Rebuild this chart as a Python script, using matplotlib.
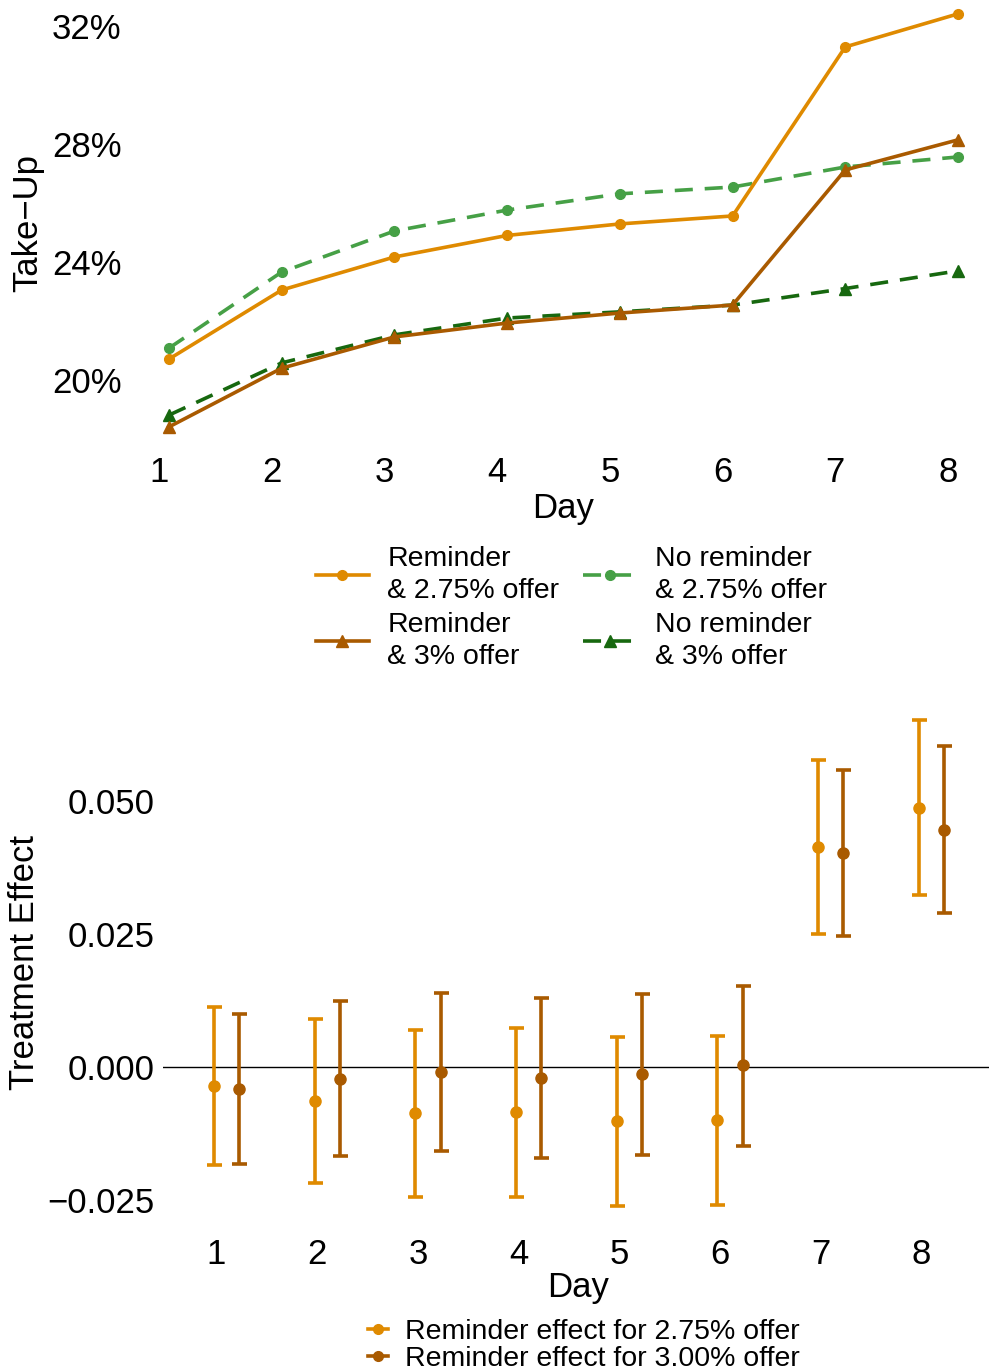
"""
Take-up by day for the reminder / offer arms, and the reminder treatment
effect per day with confidence intervals. Writes out.png.
"""

import matplotlib
matplotlib.use('Agg')  # headless
import matplotlib.pyplot as plt
import numpy as np
from matplotlib.lines import Line2D
from matplotlib.transforms import ScaledTranslation

days = [1, 2, 3, 4, 5, 6, 7, 8]

# take-up in percent
reminder_275 = [20.71, 23.05, 24.17, 24.90, 25.29, 25.56, 31.29, 32.41]
no_reminder_275 = [21.08, 23.66, 25.05, 25.76, 26.31, 26.54, 27.22, 27.56]
reminder_3 = [18.41, 20.40, 21.46, 21.93, 22.27, 22.54, 27.12, 28.14]
no_reminder_3 = [18.81, 20.58, 21.53, 22.10, 22.31, 22.54, 23.10, 23.70]

take_up_ticks = [20, 24, 28, 32]
take_up_labels = ['20%', '24%', '28%', '32%']

# reminder effect estimates with CI bounds
effect_275 = [-0.0036, -0.0064, -0.0087, -0.0085, -0.0102, -0.0100, 0.0414, 0.0488]
low_275 = [-0.0185, -0.0219, -0.0244, -0.0244, -0.0261, -0.0260, 0.0250, 0.0323]
high_275 = [0.0112, 0.0091, 0.0069, 0.0073, 0.0057, 0.0059, 0.0578, 0.0652]
effect_300 = [-0.0041, -0.0022, -0.0010, -0.0021, -0.0013, 0.0003, 0.0402, 0.0446]
low_300 = [-0.0183, -0.0168, -0.0159, -0.0172, -0.0165, -0.0149, 0.0246, 0.0289]
high_300 = [0.0100, 0.0124, 0.0139, 0.0130, 0.0138, 0.0153, 0.0558, 0.0603]

effect_ticks = [-0.025, 0.0, 0.025, 0.05]
effect_labels = ['\u22120.025', '0.000', '0.025', '0.050']

ORANGE = '#DF8A00'
BROWN = '#A95A00'
LIGHT_GREEN = '#46A046'
DARK_GREEN = '#17680F'

plt.rcParams['font.family'] = ['Liberation Sans', 'DejaVu Sans']

W, H = 989, 1372
FS = 25      # tick / axis label size
LEG_FS = 20.5
fig = plt.figure(figsize=(W / 100, H / 100), dpi=100)


def strip(ax):
    for s in ax.spines.values():
        s.set_visible(False)
    ax.tick_params(length=0, labelsize=FS, pad=6)
    # tick labels sit a little left of their points in the original
    shift = ScaledTranslation(-10 / 100, 0, fig.dpi_scale_trans)
    for lab in ax.get_xticklabels():
        lab.set_transform(lab.get_transform() + shift)


# ---- top: take-up by day ----
ax1 = fig.add_axes([130 / W, 1 - 448 / H, (W - 130) / W, 448 / H])
lw = 2.6
dash = (5, 3.3)
ax1.plot(days, no_reminder_275, color=LIGHT_GREEN, lw=lw, dashes=dash,
         marker='o', ms=7)
ax1.plot(days, no_reminder_3, color=DARK_GREEN, lw=lw, dashes=dash,
         marker='^', ms=9)
ax1.plot(days, reminder_275, color=ORANGE, lw=lw, marker='o', ms=7)
ax1.plot(days, reminder_3, color=BROWN, lw=lw, marker='^', ms=9)
ax1.set_xlim(0.654, 8.275)
ax1.set_ylim(17.695, 32.88)
ax1.set_xticks(days)
ax1.set_xticklabels([str(d) for d in days])
ax1.set_yticks(take_up_ticks)
ax1.set_yticklabels(take_up_labels)
strip(ax1)
fig.text(563 / W, 1 - 508 / H, 'Day', fontsize=FS, ha='center', va='center')
fig.text(28 / W, 1 - 223 / H, 'Take\u2212Up', fontsize=FS, rotation=90,
         ha='center', va='center')

handles = [
    Line2D([], [], color=ORANGE, lw=lw, marker='o', ms=7),
    Line2D([], [], color=BROWN, lw=lw, marker='^', ms=9),
    Line2D([], [], color=LIGHT_GREEN, lw=lw, dashes=dash, marker='o', ms=7),
    Line2D([], [], color=DARK_GREEN, lw=lw, dashes=dash, marker='^', ms=9),
]
labels = ['Reminder\n& 2.75% offer', 'Reminder\n& 3% offer',
          'No reminder\n& 2.75% offer', 'No reminder\n& 3% offer']
leg = fig.legend(handles, labels, loc='upper left',
                 bbox_to_anchor=(316 / W, 1 - 546 / H), ncol=2, frameon=False,
                 fontsize=LEG_FS, numpoints=1, handlelength=1.85,
                 handletextpad=0.66, columnspacing=0.84, labelspacing=0.31,
                 borderpad=0, borderaxespad=0)
for t in leg.get_texts():
    t.set_linespacing(1.28)

# ---- bottom: reminder effect by day ----
ax2 = fig.add_axes([163 / W, 1 - 1230 / H, (W - 163) / W, (1230 - 696) / H])
x = np.array(days, dtype=float)
ax2.axhline(0, color='black', lw=1, zorder=1)
for xs, est, lo, hi, col in [(x - 0.125, effect_275, low_275, high_275, ORANGE),
                             (x + 0.125, effect_300, low_300, high_300, BROWN)]:
    est = np.array(est)
    yerr = [est - np.array(lo), np.array(hi) - est]
    ax2.errorbar(xs, est, yerr=yerr, fmt='o', color=col, ms=8,
                 elinewidth=2.6, capsize=5.4, capthick=2.6, zorder=3)
ax2.set_xlim(0.369, 8.572)
ax2.set_ylim(-0.0307, 0.0698)
ax2.set_xticks(days)
ax2.set_xticklabels([str(d) for d in days])
ax2.set_yticks(effect_ticks)
ax2.set_yticklabels(effect_labels)
strip(ax2)
fig.text(578 / W, 1 - 1288 / H, 'Day', fontsize=FS, ha='center', va='center')
fig.text(25 / W, 1 - 963 / H, 'Treatment Effect', fontsize=FS, rotation=90,
         ha='center', va='center')

eff_handles = [
    Line2D([], [], color=ORANGE, lw=2.6, marker='o', ms=7),
    Line2D([], [], color=BROWN, lw=2.6, marker='o', ms=7),
]
eff_labels = ['Reminder effect for 2.75% offer',
              'Reminder effect for 3.00% offer']
fig.legend(eff_handles, eff_labels, loc='upper left',
           bbox_to_anchor=(368 / W, 1 - 1319 / H), frameon=False,
           fontsize=LEG_FS, numpoints=1, handlelength=0.7, handletextpad=0.6,
           labelspacing=0.04, borderpad=0, borderaxespad=0)

fig.savefig('out.png', dpi=100)
plt.close(fig)
